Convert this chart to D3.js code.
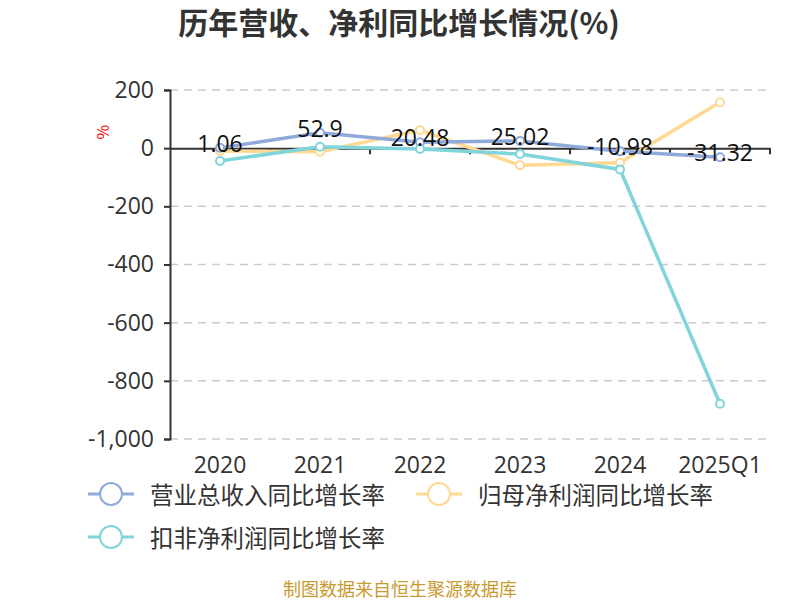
<!DOCTYPE html>
<html><head><meta charset="utf-8">
<script src="https://cdn.jsdelivr.net/npm/d3@7"></script>
<style>body{margin:0;background:#fff;} svg{display:block;font-family:"Noto Sans CJK SC","Noto Sans",sans-serif;}</style>
</head><body>
<svg id="c" width="800" height="600"></svg>
<script>
const categories = ["2020","2021","2022","2023","2024","2025Q1"];
const revenueGrowth = [1.06, 52.9, 20.48, 25.02, -10.98, -31.32];
const netProfitGrowth = [-10, -12, 62, -59, -50, 158];
const deductedProfitGrowth = [-44, 5, -3, -20, -73, -879];
const yTicks = [200, 0, -200, -400, -600, -800, -1000];
const seriesNames = ["营业总收入同比增长率", "归母净利润同比增长率", "扣非净利润同比增长率"];
const colors = ["#8eaadb", "#ffd993", "#7fd5d9"];

const numFont = "'Open Sans','Noto Sans',sans-serif";
const svg = d3.select("#c");
const x = d3.scaleBand().domain(categories).range([170, 770]);
const y = d3.scaleLinear().domain([-1000, 200]).range([439, 90]);

svg.append("text").attr("x", 399).attr("y", 34).attr("text-anchor", "middle")
  .attr("font-size", 30).attr("font-weight", "bold").attr("fill", "#333")
  .text("历年营收、净利同比增长情况(%)");

// grid
svg.append("g").selectAll("line").data(yTicks.filter(d => d !== 0)).join("line")
  .attr("x1", 170).attr("x2", 770).attr("y1", d => y(d)).attr("y2", d => y(d))
  .attr("stroke", "#ccc").attr("stroke-dasharray", "8,6").attr("stroke-width", 1.5);

// y axis
const fmt = d3.format(",d");
const yAxis = d3.axisLeft(y).tickValues(yTicks).tickSize(6).tickPadding(10)
  .tickFormat(d => fmt(d).replace("−", "-"));
const gy = svg.append("g").attr("transform", "translate(170,0)").call(yAxis);
gy.select(".domain").attr("stroke", "#333").attr("stroke-width", 2);
gy.selectAll(".tick line").attr("stroke", "#333").attr("stroke-width", 2);
gy.selectAll(".tick text").attr("font-size", 23).attr("fill", "#333")
  .attr("font-family", numFont);

// x axis at zero
const xAxis = d3.axisBottom(x).tickSize(0).tickFormat("");
const gx = svg.append("g").attr("transform", `translate(0,${y(0)})`).call(xAxis);
gx.select(".domain").attr("stroke", "#333").attr("stroke-width", 2);
gx.append("g").selectAll("line").data(categories).join("line")
  .attr("x1", d => x(d) + x.bandwidth()).attr("x2", d => x(d) + x.bandwidth())
  .attr("y1", 0).attr("y2", 6).attr("stroke", "#333").attr("stroke-width", 2);

// x labels at bottom
svg.append("g").selectAll("text").data(categories).join("text")
  .attr("x", d => x(d) + x.bandwidth() / 2).attr("y", 473).attr("text-anchor", "middle")
  .attr("font-size", 23).attr("fill", "#333")
  .attr("font-family", numFont).text(d => d);

// % unit
svg.append("text").attr("transform", "translate(105,132) rotate(-90)")
  .attr("text-anchor", "middle").attr("dominant-baseline", "middle")
  .attr("font-size", 16).attr("fill", "#e00").text("%");

const allSeries = [revenueGrowth, netProfitGrowth, deductedProfitGrowth];
const line = d3.line().x((d, i) => x(categories[i]) + x.bandwidth() / 2).y(d => y(d));
const order = [1, 0, 2];
order.forEach(si => {
  const data = allSeries[si];
  svg.append("path").datum(data).attr("d", line).attr("fill", "none")
    .attr("stroke", colors[si]).attr("stroke-width", 3.5);
  svg.append("g").selectAll("circle").data(data).join("circle")
    .attr("cx", (d, i) => x(categories[i]) + x.bandwidth() / 2).attr("cy", d => y(d))
    .attr("r", 4).attr("fill", "#fff").attr("stroke", colors[si]).attr("stroke-width", 2);
});

// labels for revenue
svg.append("g").selectAll("text").data(revenueGrowth).join("text")
  .attr("x", (d, i) => x(categories[i]) + x.bandwidth() / 2).attr("y", d => y(d) + 4)
  .attr("text-anchor", "middle").attr("font-size", 23).attr("fill", "#111")
  .attr("font-family", numFont).text(d => String(d));

// legend
const legendPos = [[88, 494], [416, 494], [88, 537]];
seriesNames.forEach((n, i) => {
  const [lx, ly] = legendPos[i];
  const g = svg.append("g").attr("transform", `translate(${lx},${ly})`);
  g.append("line").attr("x1", 0).attr("x2", 46).attr("stroke", colors[i]).attr("stroke-width", 3);
  g.append("circle").attr("cx", 23).attr("r", 11).attr("fill", "#fff").attr("stroke", colors[i]).attr("stroke-width", 2);
  g.append("text").attr("x", 62).attr("y", 0).attr("dominant-baseline", "central")
    .attr("font-size", 23.5).attr("fill", "#333").text(n);
});

svg.append("text").attr("x", 400).attr("y", 596).attr("text-anchor", "middle")
  .attr("font-size", 18).attr("fill", "#c99a2e").text("制图数据来自恒生聚源数据库");
</script>
</body></html>
